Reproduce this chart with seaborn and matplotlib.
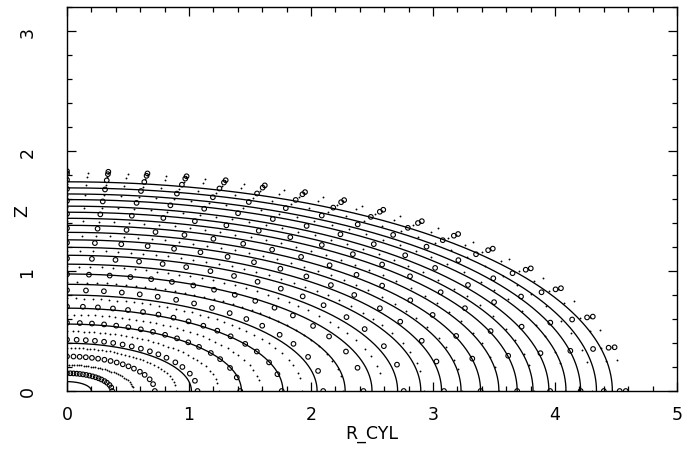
import numpy as np
import pandas as pd
import matplotlib
matplotlib.use("Agg")
import matplotlib.pyplot as plt
import seaborn as sns
from matplotlib.ticker import MultipleLocator

# Iso-density contours: semi-major axis (R at Z=0) and axis ratio
contour_a = [0.20, 1.02, 1.43, 1.77, 2.05, 2.28, 2.50, 2.71, 2.90, 3.07, 3.23,
             3.39, 3.54, 3.69, 3.82, 3.95, 4.09, 4.21, 4.34, 4.47]
contour_q = 0.39

# Sample shells (open circles): semi-major axes and ray directions (R / a)
shell_a = [0.37, 0.72, 1.07, 1.42, 1.76, 2.10, 2.43, 2.76, 3.09, 3.39, 3.69,
           3.96, 4.21, 4.40, 4.53, 4.58]
shell_u = [0.0, 0.074, 0.144, 0.214, 0.284, 0.354, 0.426, 0.496, 0.566, 0.635,
           0.700, 0.762, 0.830, 0.884, 0.941, 0.980, 1.0]
shell_q = 0.40

# Intermediate shells (small dots)
mid_a = [0.545, 0.895, 1.245, 1.59, 1.93, 2.265, 2.595, 2.925, 3.24, 3.54,
         3.825, 4.085, 4.305, 4.465, 4.555]
mid_u = [0.0, 0.037, 0.074, 0.109, 0.144, 0.179, 0.214, 0.249, 0.284, 0.319,
         0.354, 0.390, 0.426, 0.461, 0.496, 0.531, 0.566, 0.600, 0.635, 0.668,
         0.700, 0.731, 0.762, 0.796, 0.830, 0.857, 0.884, 0.912, 0.941, 0.960,
         0.980, 0.990, 1.0]

x_ticks = [0, 1, 2, 3, 4, 5]
y_ticks = [0, 1, 2, 3]
x_label = "R_CYL"
y_label = "Z"


def ellipse_frame(axes, q, n=240):
    t = np.linspace(0.0, np.pi / 2, n)
    rows = []
    for i, a in enumerate(axes):
        rows.append(pd.DataFrame({"R": a * np.cos(t), "Z": q * a * np.sin(t),
                                  "level": i}))
    return pd.concat(rows, ignore_index=True)


def grid_frame(axes, dirs, q):
    A, U = np.meshgrid(np.asarray(axes), np.asarray(dirs))
    return pd.DataFrame({"R": (A * U).ravel(),
                         "Z": (q * A * np.sqrt(1.0 - U ** 2)).ravel()})


contours = ellipse_frame(contour_a, contour_q)
circles = grid_frame(shell_a, shell_u, shell_q)
dots = grid_frame(mid_a, mid_u, shell_q)

sns.set_style("ticks")
plt.rcParams["font.family"] = ["DejaVu Sans"]
plt.rcParams["text.color"] = "black"
plt.rcParams["axes.labelcolor"] = "black"
plt.rcParams["xtick.color"] = "black"
plt.rcParams["ytick.color"] = "black"

fig = plt.figure(figsize=(6.89, 4.64), dpi=100)
ax = fig.add_axes([67 / 689, 1 - 392 / 464, 610 / 689, 384 / 464])

sns.lineplot(data=contours, x="R", y="Z", units="level", estimator=None,
             sort=False, color="black", linewidth=0.95, ax=ax, legend=False)
sns.scatterplot(data=dots, x="R", y="Z", s=1.8, color="black", linewidth=0,
                marker="o", ax=ax, legend=False)
sns.scatterplot(data=circles, x="R", y="Z", s=11, marker="o",
                facecolor="none", edgecolor="black", linewidth=0.8, ax=ax,
                legend=False)

ax.set_xlim(0, 5)
ax.set_ylim(0, 3.2)
ax.set_xticks(x_ticks)
ax.set_yticks(y_ticks)
ax.set_xticklabels([str(v) for v in x_ticks])
ax.set_yticklabels([str(v) for v in y_ticks], rotation=90, va="center")
ax.xaxis.set_minor_locator(MultipleLocator(0.2))
ax.yaxis.set_minor_locator(MultipleLocator(0.2))
ax.tick_params(which="both", direction="in", top=True, right=True,
               color="black", labelcolor="black", width=0.9)
ax.tick_params(which="major", length=6.5)
ax.tick_params(which="minor", length=3.3)
ax.tick_params(axis="x", which="major", pad=10, labelsize=12.5)
ax.tick_params(axis="y", which="major", pad=22, labelsize=12.5)
for sp in ax.spines.values():
    sp.set_linewidth(1.0)
    sp.set_color("black")

ax.set_xlabel(x_label, fontsize=12.5, color="black")
ax.set_ylabel(y_label, fontsize=12.5, color="black")
ax.xaxis.set_label_coords(0.5, -0.085)
ax.yaxis.set_label_coords(-0.058, 0.47)

fig.savefig("out.png", dpi=100)
